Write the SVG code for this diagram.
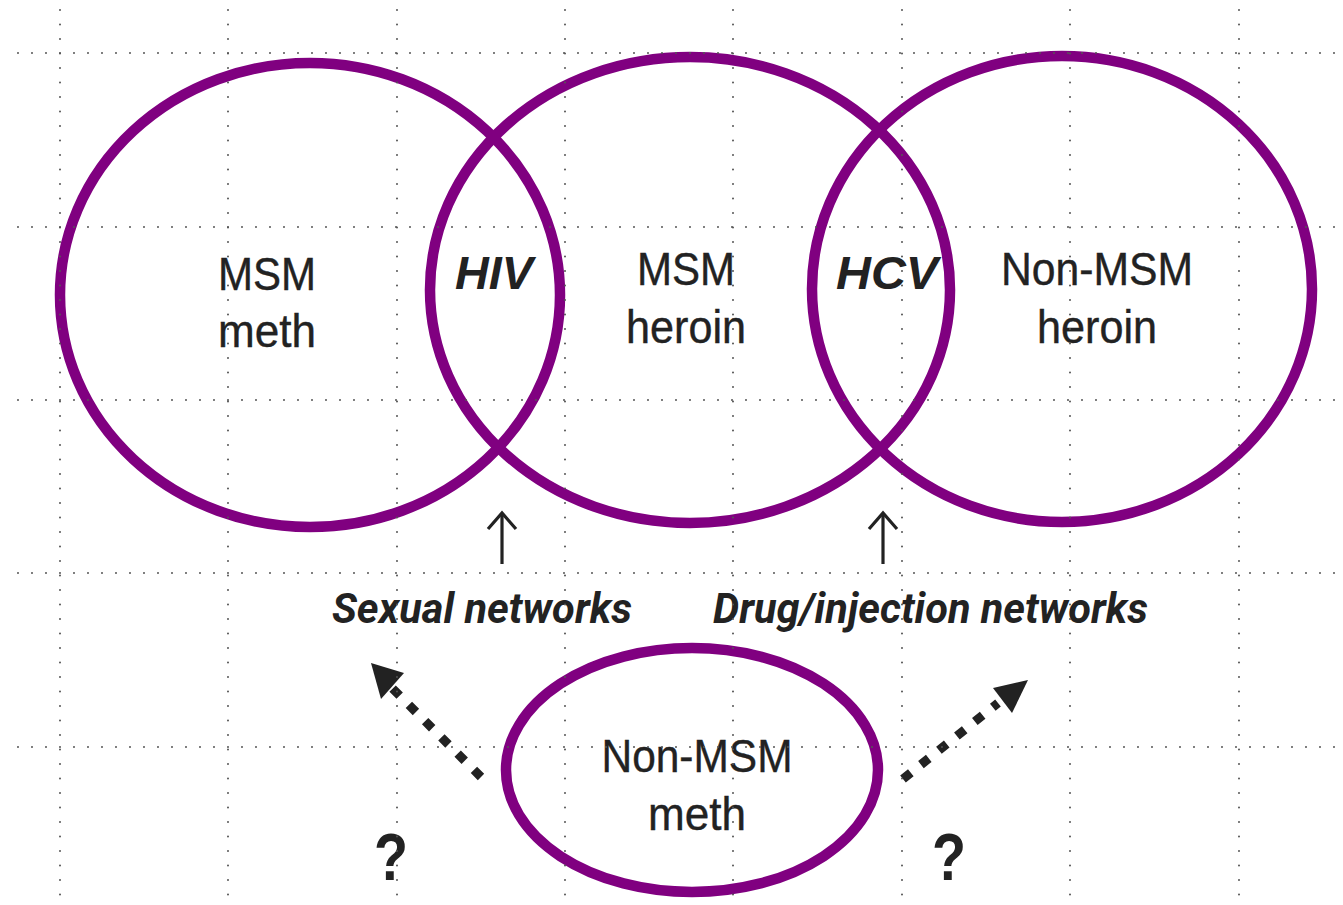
<svg xmlns="http://www.w3.org/2000/svg" width="1343" height="905" viewBox="0 0 1343 905">
<style>
.ring{fill:none;stroke:#800080;stroke-width:10.5}
.lbl{font-family:"Liberation Sans",Arial,sans-serif;font-size:46px;fill:#222;stroke:#222;stroke-width:0.4;text-anchor:middle}
.bi{font-family:"Liberation Sans",Arial,sans-serif;font-size:47px;font-weight:bold;font-style:italic;fill:#222;text-anchor:middle}
.net{font-family:Roboto,"Liberation Sans",sans-serif;font-size:43px;font-weight:bold;font-style:italic;fill:#222}
.q{font-family:"Liberation Sans",Arial,sans-serif;font-size:66px;font-weight:bold;fill:#222;text-anchor:middle}
.up{fill:none;stroke:#222;stroke-width:3.2}
.dot{fill:none;stroke:#222;stroke-width:9;stroke-dasharray:10 13}
.head{fill:#222}
.gh{stroke:#555;stroke-width:2;stroke-linecap:round;stroke-dasharray:0 14}
.gv{stroke:#555;stroke-width:2;stroke-linecap:round;stroke-dasharray:0 14.5}
</style>
<rect width="1343" height="905" fill="#fff"/>
<g id="msm-meth">
<ellipse class="ring" cx="310" cy="295" rx="250" ry="232"/>
<text class="lbl" x="267" y="290" textLength="98" lengthAdjust="spacingAndGlyphs">MSM</text>
<text class="lbl" x="267" y="347" textLength="98" lengthAdjust="spacingAndGlyphs">meth</text>
</g>
<g id="msm-heroin">
<ellipse class="ring" cx="690" cy="290" rx="260" ry="233"/>
<text class="lbl" x="686" y="285" textLength="98" lengthAdjust="spacingAndGlyphs">MSM</text>
<text class="lbl" x="686" y="343" textLength="120" lengthAdjust="spacingAndGlyphs">heroin</text>
</g>
<g id="nonmsm-heroin">
<ellipse class="ring" cx="1062" cy="289" rx="250" ry="233"/>
<text class="lbl" x="1097" y="285" textLength="192" lengthAdjust="spacingAndGlyphs">Non-MSM</text>
<text class="lbl" x="1097" y="343" textLength="120" lengthAdjust="spacingAndGlyphs">heroin</text>
</g>
<g id="nonmsm-meth">
<ellipse class="ring" cx="692" cy="770" rx="186" ry="122"/>
<text class="lbl" x="697" y="772" textLength="191" lengthAdjust="spacingAndGlyphs">Non-MSM</text>
<text class="lbl" x="697" y="830" textLength="98" lengthAdjust="spacingAndGlyphs">meth</text>
</g>
<g id="hiv"><text class="bi" x="494" y="289" textLength="78" lengthAdjust="spacingAndGlyphs">HIV</text></g>
<g id="hcv"><text class="bi" x="887" y="289" textLength="102" lengthAdjust="spacingAndGlyphs">HCV</text></g>
<g id="sexual-networks"><text class="net" x="332" y="623" textLength="300" lengthAdjust="spacingAndGlyphs">Sexual networks</text></g>
<g id="drug-networks"><text class="net" x="713" y="623" textLength="435" lengthAdjust="spacingAndGlyphs">Drug/injection networks</text></g>
<g id="q-left"><text class="q" x="391" y="880" textLength="34" lengthAdjust="spacingAndGlyphs">?</text></g>
<g id="q-right"><text class="q" x="949" y="880" textLength="34" lengthAdjust="spacingAndGlyphs">?</text></g>
<g id="connectors">
<line class="up" x1="502" y1="564" x2="502" y2="514"/>
<polyline class="up" points="488,529 502,513 516,529"/>
<line class="up" x1="883" y1="564" x2="883" y2="514"/>
<polyline class="up" points="869,529 883,513 897,529"/>
<line class="dot" x1="481" y1="777" x2="390" y2="686"/>
<polygon class="head" points="371,663 404,673 381,699"/>
<line class="dot" x1="903" y1="779" x2="998" y2="703"/>
<polygon class="head" points="1028,680 993,688 1012,713"/>
</g>
<g id="grid">
<line class="gh" x1="18" y1="53" x2="1343" y2="53"/>
<line class="gh" x1="18" y1="227" x2="1343" y2="227"/>
<line class="gh" x1="18" y1="400" x2="1343" y2="400"/>
<line class="gh" x1="18" y1="573" x2="1343" y2="573"/>
<line class="gh" x1="18" y1="747" x2="1343" y2="747"/>
<line class="gv" x1="60" y1="10" x2="60" y2="905"/>
<line class="gv" x1="228" y1="10" x2="228" y2="905"/>
<line class="gv" x1="397" y1="10" x2="397" y2="905"/>
<line class="gv" x1="565" y1="10" x2="565" y2="905"/>
<line class="gv" x1="733" y1="10" x2="733" y2="905"/>
<line class="gv" x1="902" y1="10" x2="902" y2="905"/>
<line class="gv" x1="1070" y1="10" x2="1070" y2="905"/>
<line class="gv" x1="1239" y1="10" x2="1239" y2="905"/>
</g>
</svg>
